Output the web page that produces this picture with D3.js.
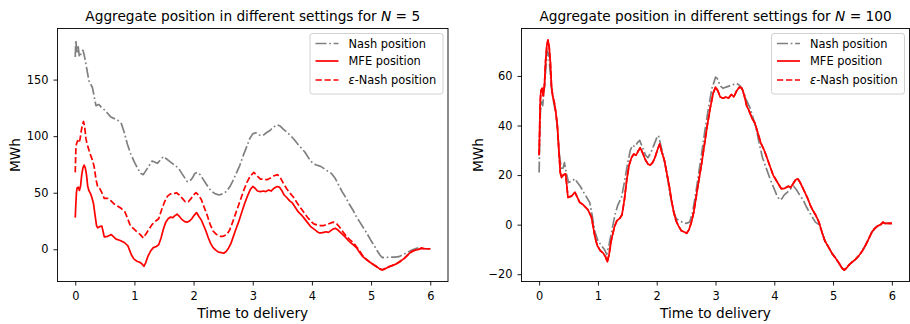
<!DOCTYPE html>
<html>
<head>
<meta charset="utf-8">
<script src="https://cdn.jsdelivr.net/npm/d3@7"></script>
<style>
  html, body { margin: 0; padding: 0; background: #fff; }
  svg { display: block; font-family: "DejaVu Sans", sans-serif; }
</style>
</head>
<body>
<div id="chart"></div>
<script>
// Series: [time to delivery, MWh]
const mfe = [[0.00,28],[0.01,40],[0.02,50],[0.03,54],[0.05,55],[0.07,52],[0.09,56],[0.11,66],[0.13,72],[0.15,74.5],[0.17,72],[0.19,66],[0.21,56],[0.23,52],[0.26,49],[0.28,46],[0.31,40],[0.33,32],[0.36,21],[0.38,19],[0.41,20],[0.45,20.5],[0.47,16],[0.49,11],[0.55,11.5],[0.61,13],[0.65,11],[0.69,9],[0.75,8],[0.83,6],[0.89,3],[0.92,-1],[0.95,-5],[0.99,-8.5],[1.04,-10.5],[1.09,-11.5],[1.13,-13],[1.16,-15],[1.19,-12],[1.23,-6],[1.28,-1],[1.32,1.5],[1.37,2.5],[1.41,4],[1.45,10],[1.49,18],[1.53,24],[1.57,27],[1.61,28.5],[1.65,28],[1.68,29.5],[1.72,31],[1.76,29],[1.80,26.5],[1.85,24.5],[1.89,24],[1.93,25],[1.97,27],[2.01,30],[2.05,32.5],[2.09,29],[2.13,26],[2.17,21],[2.21,16],[2.25,10],[2.29,5],[2.33,1.5],[2.37,-0.5],[2.42,-2.5],[2.47,-3],[2.51,-3.5],[2.55,-2],[2.59,1],[2.63,5],[2.67,11],[2.71,17],[2.76,24],[2.81,32],[2.86,40],[2.91,47],[2.96,53],[3.00,55.5],[3.04,54],[3.08,51.5],[3.13,51],[3.18,51.5],[3.22,51],[3.27,52.5],[3.31,51.5],[3.36,54],[3.41,55.5],[3.45,55],[3.49,52],[3.53,48],[3.57,46],[3.62,43],[3.67,41],[3.72,37],[3.77,33],[3.82,30.5],[3.86,28],[3.92,24],[3.98,20],[4.03,18],[4.08,16],[4.12,14.5],[4.16,14.5],[4.20,15],[4.24,15.5],[4.28,15],[4.32,16.5],[4.36,18],[4.40,18.5],[4.44,17],[4.48,15],[4.53,12.5],[4.57,10.5],[4.61,8],[4.65,6],[4.70,4],[4.76,1],[4.81,-3],[4.86,-6.5],[4.92,-9],[4.98,-11.5],[5.04,-13.5],[5.10,-15.5],[5.15,-17.5],[5.19,-18.3],[5.23,-17.5],[5.28,-16],[5.33,-15],[5.38,-14],[5.44,-12.5],[5.50,-10.5],[5.56,-8],[5.61,-5.5],[5.66,-3],[5.71,-1.5],[5.76,-0.5],[5.81,0],[5.85,1],[5.88,0.5],[5.93,0.5],[6.00,0.5]]

const nash5 = [[0.00,170],[0.01,185],[0.02,178],[0.03,173],[0.05,179],[0.07,170],[0.09,172],[0.11,174],[0.13,176],[0.15,172],[0.18,164],[0.21,155],[0.23,149],[0.26,146],[0.29,143],[0.32,135],[0.35,127],[0.40,128],[0.45,125],[0.50,123],[0.55,120],[0.60,117],[0.66,115.5],[0.72,114],[0.78,111],[0.83,103],[0.88,93],[0.94,84],[1.00,77],[1.06,71],[1.11,67],[1.15,66],[1.20,70],[1.25,74],[1.30,78],[1.35,77],[1.39,76],[1.44,79],[1.49,82],[1.54,80],[1.59,78],[1.64,76],[1.69,74],[1.74,72],[1.79,68],[1.84,64],[1.89,60],[1.93,60],[1.98,63],[2.02,67],[2.06,68],[2.11,66],[2.16,62],[2.21,58],[2.26,54],[2.31,51],[2.37,49],[2.43,48],[2.49,49],[2.55,51],[2.61,55],[2.66,60],[2.72,67],[2.78,74],[2.84,83],[2.90,91],[2.95,98],[3.00,102],[3.05,103],[3.11,101],[3.17,100.5],[3.23,103],[3.29,105],[3.35,108],[3.41,110],[3.46,109],[3.52,106],[3.58,103.5],[3.64,100.5],[3.70,97],[3.76,93],[3.82,89.5],[3.88,86],[3.94,81],[4.00,77],[4.07,74.5],[4.14,73.5],[4.20,71.5],[4.27,69],[4.33,67],[4.39,63],[4.45,57],[4.51,51],[4.57,46],[4.63,40],[4.69,35],[4.75,29],[4.81,24],[4.87,19],[4.93,14],[4.99,8.5],[5.05,3.5],[5.10,-1],[5.15,-5],[5.19,-7.3],[5.30,-7],[5.40,-7],[5.47,-6.5],[5.55,-4.5],[5.62,-2.5],[5.70,-0.5],[5.78,1],[5.85,1],[5.92,0.5],[6.00,0.5]]

const epsNash5 = [[0.00,68],[0.01,88],[0.02,93],[0.04,96],[0.06,94],[0.08,97],[0.10,104],[0.12,110],[0.14,113],[0.16,108],[0.18,98],[0.20,93],[0.23,88],[0.26,83],[0.29,79],[0.32,73],[0.35,62],[0.38,55],[0.41,54],[0.45,50],[0.49,45],[0.55,45],[0.60,43],[0.66,40],[0.72,38],[0.78,36],[0.84,33],[0.88,28],[0.93,21],[0.99,18],[1.05,15],[1.10,13],[1.15,10],[1.20,14],[1.25,18],[1.30,22],[1.36,25],[1.41,27],[1.46,35],[1.51,42],[1.56,47],[1.61,49],[1.66,49],[1.71,50],[1.76,48],[1.81,45],[1.86,42],[1.91,42],[1.96,45],[2.00,48],[2.04,50],[2.08,48],[2.13,44],[2.18,37],[2.23,30],[2.28,22],[2.33,16],[2.39,13],[2.45,11.5],[2.50,11.5],[2.56,13],[2.61,17],[2.66,24],[2.72,33],[2.78,42],[2.84,51],[2.90,59],[2.96,65],[3.02,68],[3.07,65],[3.13,62],[3.19,62],[3.24,61.5],[3.30,63],[3.36,65],[3.42,66],[3.47,63],[3.52,58],[3.58,53],[3.64,49],[3.69,46],[3.75,41],[3.81,36.5],[3.86,33],[3.92,28.5],[3.98,25],[4.03,22.5],[4.09,21.5],[4.15,21],[4.20,21],[4.26,22],[4.31,23],[4.36,24],[4.41,23],[4.47,19.5],[4.53,15],[4.59,11],[4.65,8],[4.70,6],[4.75,2.5],[4.80,-1],[4.85,-5],[4.90,-8],[4.96,-10.5],[5.02,-13],[5.08,-15],[5.13,-17],[5.19,-18],[5.25,-16.5],[5.32,-15],[5.40,-13.5],[5.48,-11],[5.56,-8],[5.63,-4.5],[5.70,-1.5],[5.78,-0.3],[5.85,1],[5.92,0.5],[6.00,0.5]]

const nash100 = [[0.00,21],[0.01,35],[0.02,45],[0.04,50],[0.06,48],[0.08,53],[0.10,58],[0.12,65],[0.14,70],[0.16,69],[0.18,64],[0.21,55],[0.25,49],[0.29,44],[0.32,36],[0.35,27],[0.38,22],[0.41,23],[0.43,25],[0.46,21],[0.50,17],[0.55,17.5],[0.61,18.5],[0.65,17],[0.70,15.5],[0.77,12.5],[0.86,9],[0.90,4],[0.95,-3],[1.00,-6.5],[1.06,-8.5],[1.11,-10],[1.15,-12],[1.19,-8],[1.24,-2],[1.29,4],[1.34,8],[1.40,11],[1.45,17],[1.50,24],[1.55,30],[1.59,32],[1.63,31.5],[1.67,33],[1.71,34],[1.76,31],[1.81,28],[1.85,27],[1.90,29],[1.95,32],[2.00,35],[2.03,36],[2.07,32],[2.12,27],[2.17,21],[2.22,13],[2.28,6],[2.33,2.5],[2.38,1.5],[2.44,1],[2.50,0.5],[2.56,1],[2.61,5],[2.66,12],[2.71,20],[2.76,28],[2.82,38],[2.88,47],[2.94,55],[3.00,59.5],[3.03,59],[3.08,56],[3.13,55],[3.18,55.5],[3.24,56],[3.30,56.5],[3.36,57],[3.42,56],[3.47,54],[3.53,50],[3.59,47],[3.64,43],[3.70,38],[3.75,32],[3.80,27],[3.86,23],[3.92,19],[3.98,15.5],[4.04,12],[4.09,10],[4.13,10.5],[4.17,12],[4.22,13],[4.28,14.5],[4.33,15.5],[4.38,14],[4.43,12],[4.49,10],[4.55,7],[4.61,4.5],[4.66,2.5],[4.70,1],[4.76,0],[4.81,-3],[4.86,-6.5],[4.92,-9],[4.98,-11.5],[5.04,-13.5],[5.10,-15.5],[5.15,-17.5],[5.19,-18.3],[5.23,-17.5],[5.28,-16],[5.33,-15],[5.38,-14],[5.44,-12.5],[5.50,-10.5],[5.56,-8],[5.61,-5.5],[5.66,-3],[5.71,-1.5],[5.76,-0.5],[5.81,0],[5.85,1],[5.88,0.5],[5.93,0.5],[6.00,0.5]]

// for N = 100 the eps-Nash curve sits right on top of the MFE one
const epsNash100 = [[0.00,28],[0.01,40],[0.02,50],[0.03,54],[0.05,55],[0.07,52],[0.09,56],[0.11,66],[0.13,72],[0.15,74.5],[0.17,72],[0.19,66],[0.21,56],[0.23,52],[0.26,49],[0.28,46],[0.31,40],[0.33,32],[0.36,21],[0.38,19],[0.41,20],[0.45,20.5],[0.47,16],[0.49,11],[0.55,11.5],[0.61,13],[0.65,11],[0.69,9],[0.75,8],[0.83,6],[0.89,3],[0.92,-1],[0.95,-5],[0.99,-8.5],[1.04,-10.5],[1.09,-11.5],[1.13,-13],[1.16,-15],[1.19,-12],[1.23,-6],[1.28,-1],[1.32,1.5],[1.37,2.5],[1.41,4],[1.45,10],[1.49,18],[1.53,24],[1.57,27],[1.61,28.5],[1.65,28],[1.68,29.5],[1.72,31],[1.76,29],[1.80,26.5],[1.85,24.5],[1.89,24],[1.93,25],[1.97,27],[2.01,30],[2.05,32.5],[2.09,29],[2.13,26],[2.17,21],[2.21,16],[2.25,10],[2.29,5],[2.33,1.5],[2.37,-0.5],[2.42,-2.5],[2.47,-3],[2.51,-3.5],[2.55,-2],[2.59,1],[2.63,5],[2.67,11],[2.71,17],[2.76,24],[2.81,32],[2.86,40],[2.91,47],[2.96,53],[3.00,55.5],[3.04,54],[3.08,51.5],[3.13,51],[3.18,51.5],[3.22,51],[3.27,52.5],[3.31,51.5],[3.36,54],[3.41,55.5],[3.45,55],[3.49,52],[3.53,48],[3.57,46],[3.62,43],[3.67,41],[3.72,37],[3.77,33],[3.82,30.5],[3.86,28],[3.92,24],[3.98,20],[4.03,18],[4.08,16],[4.12,14.5],[4.16,14.5],[4.20,15],[4.24,15.5],[4.28,15],[4.32,16.5],[4.36,18],[4.40,18.5],[4.44,17],[4.48,15],[4.53,12.5],[4.57,10.5],[4.61,8],[4.65,6],[4.70,4],[4.76,1],[4.81,-3],[4.86,-6.5],[4.92,-9],[4.98,-11.5],[5.04,-13.5],[5.10,-15.5],[5.15,-17.5],[5.19,-18.3],[5.23,-17.5],[5.28,-16],[5.33,-15],[5.38,-14],[5.44,-12.5],[5.50,-10.5],[5.56,-8],[5.61,-5.5],[5.66,-3],[5.71,-1.5],[5.76,-0.5],[5.81,0],[5.85,1],[5.88,0.5],[5.93,0.5],[6.00,0.5]]

const xTicks = [0, 1, 2, 3, 4, 5, 6]
const yTicks5 = [0, 50, 100, 150]
const yTicks100 = [-20, 0, 20, 40, 60]
const panelN = ["5", "100"]
const legendLabels = ["Nash position", "MFE position", "-Nash position"]

const width = 910
const height = 324
const tickFont = "11.4px"
const labelFont = "13.7px"

const styles = [
  { color: "#808080", dash: "11,2.7,1.7,2.7" },
  { color: "#ff0000", dash: null },
  { color: "#ff0000", dash: "6.3,2.7" },
]

const panels = [
  { n: panelN[0], series: [nash5, mfe, epsNash5], yTicks: yTicks5, x0: 57.5, x1: 448, ylabX: 19.5 },
  { n: panelN[1], series: [nash100, mfe, epsNash100], yTicks: yTicks100, x0: 521.5, x1: 909.5, ylabX: 483 },
]
const axTop = 28.5
const axBottom = 281.5

const svg = d3.select("#chart").append("svg")
  .attr("width", width)
  .attr("height", height)
  .attr("viewBox", `0 0 ${width} ${height}`)

panels.forEach((p, pi) => {
  const all = p.series.flat()
  const [lo, hi] = d3.extent(all, (d) => d[1])
  const pad = (hi - lo) * 0.05

  const x = d3.scaleLinear().domain([-0.3, 6.3]).range([p.x0, p.x1])
  const y = d3.scaleLinear().domain([lo - pad, hi + pad]).range([axBottom, axTop])

  const g = svg.append("g")
  const clipId = "clip" + pi
  g.append("clipPath").attr("id", clipId)
    .append("rect")
    .attr("x", p.x0).attr("y", axTop)
    .attr("width", p.x1 - p.x0).attr("height", axBottom - axTop)

  // Lines
  const line = d3.line().x((d) => x(d[0])).y((d) => y(d[1]))
  const lines = g.append("g").attr("clip-path", `url(#${clipId})`)
  p.series.forEach((s, i) => {
    lines.append("path")
      .datum(s)
      .attr("d", line)
      .attr("fill", "none")
      .attr("stroke", styles[i].color)
      .attr("stroke-width", 1.7)
      .attr("stroke-dasharray", styles[i].dash)
      .attr("stroke-linejoin", "round")
  })

  // Axes
  const xAxis = g.append("g")
    .attr("transform", `translate(0,${axBottom})`)
    .call(d3.axisBottom(x).tickValues(xTicks).tickSize(4).tickPadding(6).tickFormat(d3.format("d")))
  const yAxis = g.append("g")
    .attr("transform", `translate(${p.x0},0)`)
    .call(d3.axisLeft(y).tickValues(p.yTicks).tickSize(4).tickPadding(5).tickFormat((d) => (d < 0 ? "\u2212" + Math.abs(d) : d)))
  ;[xAxis, yAxis].forEach((a) => {
    a.select(".domain").remove()
    a.selectAll("text").attr("font-size", tickFont).attr("fill", "#000").attr("font-family", "DejaVu Sans")
    a.selectAll("line").attr("stroke", "#000").attr("stroke-width", 0.9)
  })

  // Frame
  g.append("rect")
    .attr("x", p.x0).attr("y", axTop)
    .attr("width", p.x1 - p.x0).attr("height", axBottom - axTop)
    .attr("fill", "none").attr("stroke", "#000").attr("stroke-width", 0.9)

  const cx = (p.x0 + p.x1) / 2

  // Title
  const title = g.append("text")
    .attr("x", cx).attr("y", 20.7)
    .attr("text-anchor", "middle")
    .attr("font-size", labelFont)
  title.append("tspan").text("Aggregate position in different settings for ")
  title.append("tspan").attr("font-style", "italic").text("N")
  title.append("tspan").text(" = " + p.n)

  // Axis labels
  g.append("text")
    .attr("x", cx).attr("y", 317.5)
    .attr("text-anchor", "middle")
    .attr("font-size", labelFont)
    .text("Time to delivery")
  g.append("text")
    .attr("transform", `translate(${p.ylabX},${(axTop + axBottom) / 2}) rotate(-90)`)
    .attr("text-anchor", "middle")
    .attr("font-size", labelFont)
    .text("MWh")

  // Legend
  const lw = 133
  const lx = p.x1 - 5 - lw
  const ly = axTop + 5
  const leg = g.append("g")
  leg.append("rect")
    .attr("x", lx).attr("y", ly)
    .attr("width", lw).attr("height", 60.5)
    .attr("rx", 2.5)
    .attr("fill", "#fff").attr("fill-opacity", 0.8)
    .attr("stroke", "#cccccc").attr("stroke-width", 0.9)
  const rowY = [ly + 10, ly + 27.5, ly + 46.5]
  legendLabels.forEach((lab, i) => {
    leg.append("line")
      .attr("x1", lx + 5.5).attr("x2", lx + 28.5)
      .attr("y1", rowY[i]).attr("y2", rowY[i])
      .attr("stroke", styles[i].color)
      .attr("stroke-width", 1.7)
      .attr("stroke-dasharray", styles[i].dash)
    const t = leg.append("text")
      .attr("x", lx + 38.5).attr("y", rowY[i])
      .attr("dy", "0.36em")
      .attr("font-size", tickFont)
    if (i === 2) t.append("tspan").attr("font-style", "italic").text("\u03b5")
    t.append("tspan").text(lab)
  })
})
</script>
</body>
</html>
